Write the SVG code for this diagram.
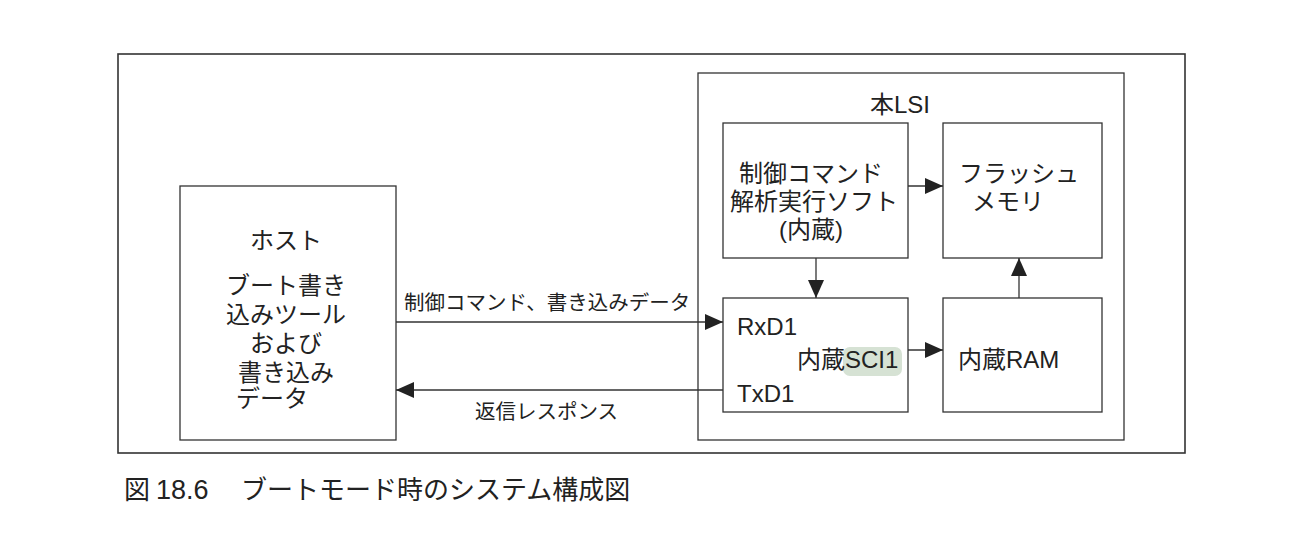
<svg xmlns="http://www.w3.org/2000/svg" width="1300" height="542" viewBox="0 0 1300 542">
<defs>
<style>
text{font-family:"Liberation Sans","Noto Sans CJK JP",sans-serif;fill:#222}
.box{fill:#fff;stroke:#333;stroke-width:1.3}
.frame{fill:none;stroke:#333;stroke-width:1.6}
.ln{fill:none;stroke:#333;stroke-width:1.3}
.t24{font-size:24px}
.t21{font-size:20.5px}
.mid{text-anchor:middle}
</style>
<marker id="ah" markerUnits="userSpaceOnUse" markerWidth="20" markerHeight="18" refX="18" refY="8" orient="auto">
<path d="M0,0 L18,8 L0,16 Z" fill="#222"/>
</marker>
</defs>
<rect width="1300" height="542" fill="#fff"/>
<rect class="frame" x="118" y="54" width="1067" height="399"/>
<g id="lsi">
<rect class="box" x="698" y="73" width="426" height="367"/>
<text class="t24" x="870" y="113">本LSI</text>
</g>
<g id="host">
<rect class="box" x="180" y="186" width="216" height="254"/>
<text class="t24 mid" x="286" y="249">ホスト</text>
<text class="t24 mid" x="286" y="294">ブート書き</text>
<text class="t24 mid" x="286" y="323">込みツール</text>
<text class="t24 mid" x="286" y="352">および</text>
<text class="t24 mid" x="286" y="381">書き込み</text>
<text class="t24" x="236" y="407">データ</text>
</g>
<g id="ctrl">
<rect class="box" x="723" y="123" width="185" height="135"/>
<text class="t24 mid" x="811" y="182">制御コマンド</text>
<text class="t24 mid" x="814" y="210">解析実行ソフト</text>
<text class="t24 mid" x="811" y="238">(内蔵)</text>
</g>
<g id="flash">
<rect class="box" x="943" y="123" width="159" height="135"/>
<text class="t24" x="959" y="182">フラッシュ</text>
<text class="t24" x="972" y="210">メモリ</text>
</g>
<g id="sci">
<rect class="box" x="723" y="298" width="185" height="114"/>
<rect x="843" y="347" width="59" height="29" rx="7" fill="#d6e2d4"/>
<text class="t24" x="737" y="335">RxD1</text>
<text class="t24" x="797" y="368">内蔵SCI1</text>
<text class="t24" x="737" y="402">TxD1</text>
</g>
<g id="ram">
<rect class="box" x="943" y="298" width="159" height="114"/>
<text class="t24" x="958" y="368">内蔵RAM</text>
</g>
<g id="connectors">
<line class="ln" x1="908" y1="186" x2="943" y2="186" marker-end="url(#ah)"/>
<line class="ln" x1="816" y1="258" x2="816" y2="298" marker-end="url(#ah)"/>
<line class="ln" x1="1019" y1="298" x2="1019" y2="258" marker-end="url(#ah)"/>
<line class="ln" x1="908" y1="350" x2="943" y2="350" marker-end="url(#ah)"/>
<line class="ln" x1="396" y1="322" x2="723" y2="322" marker-end="url(#ah)"/>
<line class="ln" x1="723" y1="390" x2="396" y2="390" marker-end="url(#ah)"/>
<text class="t21" x="404" y="310">制御コマンド、書き込みデータ</text>
<text class="t21" x="475" y="419">返信レスポンス</text>
</g>
<g id="caption">
<text style="font-size:26px" x="124" y="499">図</text>
<text style="font-size:27px" x="156" y="499">18.6</text>
<text style="font-size:26px" x="241" y="499">ブートモード時のシステム構成図</text>
</g>
</svg>
